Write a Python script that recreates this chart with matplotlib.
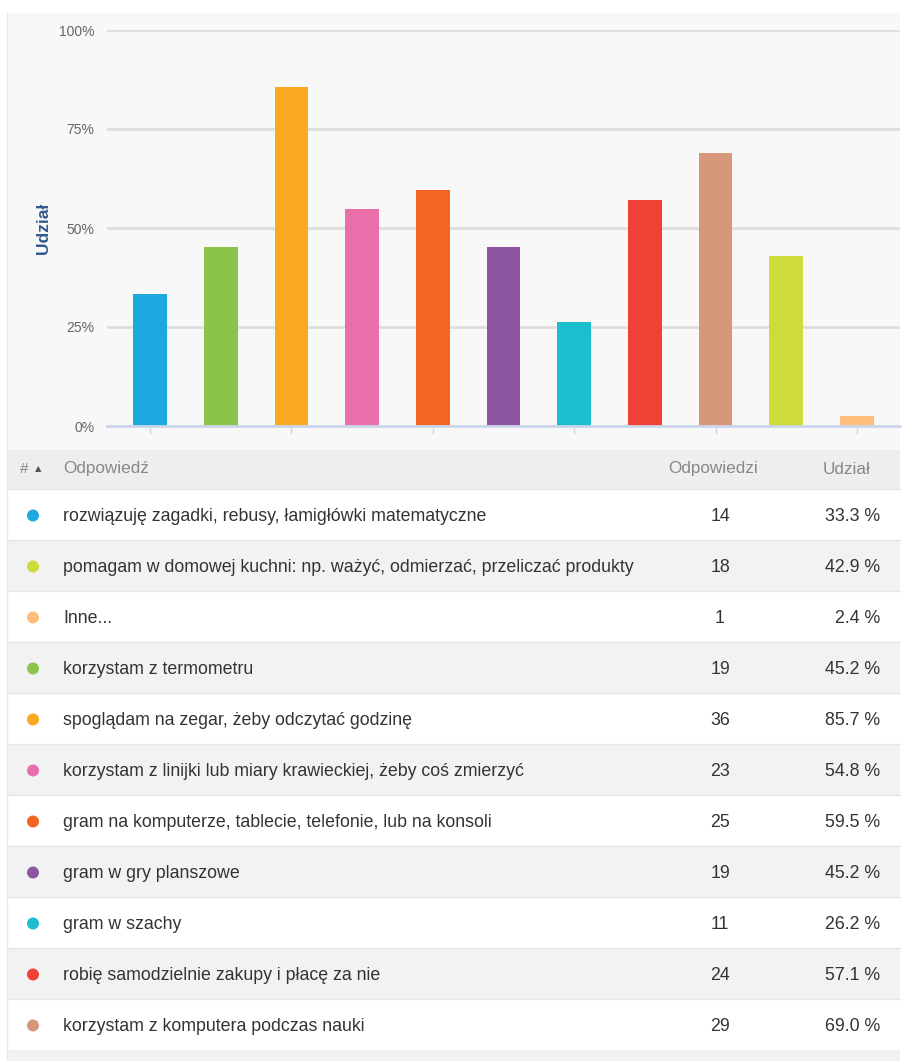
import matplotlib.pyplot as plt
from matplotlib.patches import Rectangle, Circle

plt.rcParams['font.family'] = ['Liberation Sans', 'DejaVu Sans']

# bar chart (order as in the chart)
bar_values = [33.3, 45.2, 85.7, 54.8, 59.5, 45.2, 26.2, 57.1, 69.0, 42.9, 2.4]
bar_colors = ['#1ea8e0', '#8bc44a', '#fba922', '#e86fa9', '#f26522',
              '#8e56a0', '#1bbdcf', '#ef4136', '#d6977a', '#cddc38', '#fdbe7b']
y_ticks = [0, 25, 50, 75, 100]
y_tick_labels = ['0%', '25%', '50%', '75%', '100%']

# table (order as in the table)
answers = [
    'rozwiązuję zagadki, rebusy, łamigłówki matematyczne',
    'pomagam w domowej kuchni: np. ważyć, odmierzać, przeliczać produkty',
    'Inne...',
    'korzystam z termometru',
    'spoglądam na zegar, żeby odczytać godzinę',
    'korzystam z linijki lub miary krawieckiej, żeby coś zmierzyć',
    'gram na komputerze, tablecie, telefonie, lub na konsoli',
    'gram w gry planszowe',
    'gram w szachy',
    'robię samodzielnie zakupy i płacę za nie',
    'korzystam z komputera podczas nauki',
]
counts = [14, 18, 1, 19, 36, 23, 25, 19, 11, 24, 29]
shares = ['33.3 %', '42.9 %', '2.4 %', '45.2 %', '85.7 %', '54.8 %',
          '59.5 %', '45.2 %', '26.2 %', '57.1 %', '69.0 %']
row_colors = ['#1ea8e0', '#cddc38', '#fdbe7b', '#8bc44a', '#fba922', '#e86fa9',
              '#f26522', '#8e56a0', '#1bbdcf', '#ef4136', '#d6977a']

W, H = 902, 1061
fig = plt.figure(figsize=(W / 100, H / 100), dpi=100)
fig.patch.set_facecolor('white')

# background axes in pixel coordinates
bg = fig.add_axes([0, 0, 1, 1])
bg.set_xlim(0, W)
bg.set_ylim(H, 0)
bg.axis('off')

bg.add_patch(Rectangle((7, 13), 893, 437, facecolor='#f8f8f8', edgecolor='none'))
bg.add_patch(Rectangle((7, 450), 893, 39, facecolor='#eeeeee', edgecolor='none'))
bg.add_patch(Rectangle((7, 1050), 893, 11, facecolor='#f1f1f1', edgecolor='none'))
bg.plot([7, 7], [13, H], color='#e8e8e8', lw=1)

row_h = 51
top = 489
for i, (txt, c, s, col) in enumerate(zip(answers, counts, shares, row_colors)):
    y0 = top + i * row_h
    face = 'white' if i % 2 == 0 else '#f2f2f2'
    bg.add_patch(Rectangle((7, y0), 893, row_h, facecolor=face, edgecolor='none'))
    bg.plot([7, 900], [y0, y0], color='#e6e6e6', lw=1)
    yc = y0 + row_h / 2 + 2
    bg.add_patch(Circle((33, yc - 1), 6, facecolor=col, edgecolor='none'))
    bg.text(63, yc, txt, fontsize=12.8, color='#333333', va='center', ha='left')
    bg.text(720, yc, str(c), fontsize=12.8, color='#333333', va='center', ha='center')
    bg.text(880, yc, s, fontsize=12.8, color='#333333', va='center', ha='right')

hy = 469
bg.text(20, hy, '#', fontsize=11, color='#888888', va='center', ha='left')
bg.text(35, hy, '▲', fontsize=6, color='#555555', va='center', ha='left',
        family=['DejaVu Sans'])
bg.text(63, hy, 'Odpowiedź', fontsize=12.3, color='#888888', va='center', ha='left')
bg.text(713, hy, 'Odpowiedzi', fontsize=12.3, color='#888888', va='center', ha='center')
bg.text(846, hy, 'Udział', fontsize=12.3, color='#888888', va='center', ha='center')

# bar chart axes: x from 107 to 900, y from 30 (100%) to 426 (0%)
ax = fig.add_axes([107 / W, 1 - 426 / H, 793 / W, 396 / H])
ax.patch.set_alpha(0)
x = range(len(bar_values))
ax.bar(x, bar_values, width=0.48, color=bar_colors, zorder=3)
ax.set_xlim(-0.61, len(bar_values) - 1 + 0.61)
ax.set_ylim(0, 100)
ax.set_yticks(y_ticks)
ax.set_yticklabels(y_tick_labels)
ax.grid(axis='y', color='#dedede', lw=2, zorder=0)
ax.set_xticks(range(0, len(bar_values), 2))
ax.set_xticklabels([])
ax.tick_params(axis='x', length=6, color='#ccd6eb', width=1)
ax.tick_params(axis='y', length=0, pad=9, labelsize=10, labelcolor='#666666')
for side in ['top', 'right', 'left']:
    ax.spines[side].set_visible(False)
ax.spines['bottom'].set_color('#ccd6eb')
ax.spines['bottom'].set_linewidth(2)
ax.spines['bottom'].set_zorder(4)
ax.set_ylabel('Udział', fontsize=12.5, fontweight='bold', color='#34598f')
ax.yaxis.set_label_coords(-0.07, 0.5)

fig.savefig('out.png', dpi=100)
